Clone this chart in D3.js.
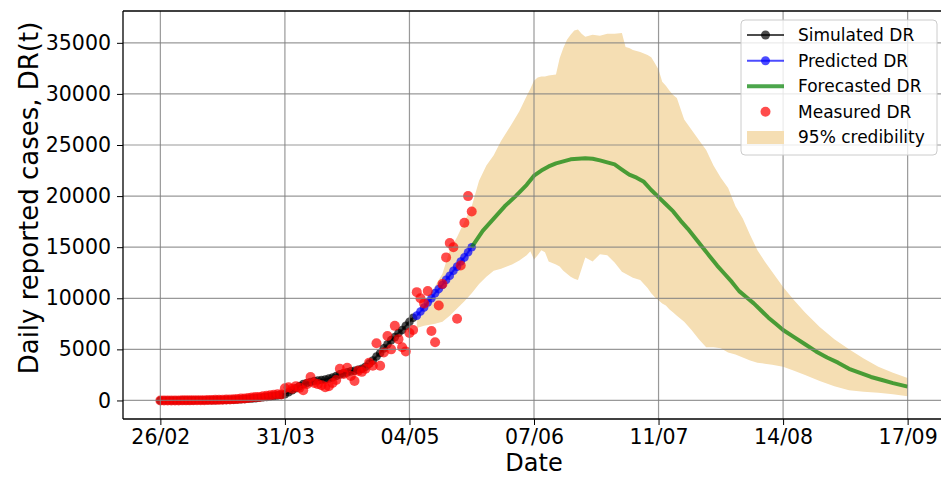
<!DOCTYPE html>
<html>
<head>
<meta charset="utf-8">
<script src="https://cdn.jsdelivr.net/npm/d3@7/dist/d3.min.js"></script>
<style>
  body { margin: 0; background: #fff; }
  svg { display: block; font-family: "DejaVu Sans", sans-serif; }
</style>
</head>
<body>
<svg id="chart" width="941" height="478"></svg>
<script>
// ---------- DATA ----------
const tickDays = [0, 34, 68, 102, 136, 170, 204];
const tickLabels = ["26/02", "31/03", "04/05", "07/06", "11/07", "14/08", "17/09"];
const yTicks = [0, 5000, 10000, 15000, 20000, 25000, 30000, 35000];

// Measured DR: one value per day starting 26/02 (day 0)
const measuredValues = [
  0, 0, 0, 0, 0, 0, 10, 10, 10, 20,
  20, 30, 30, 40, 50, 60, 60, 80, 90, 100,
  120, 150, 180, 200, 250, 300, 350, 350, 400, 450,
  500, 550, 600, 580, 1200, 1300, 1150, 1400, 1250, 1000,
  1600, 2300, 1700, 1600, 1500, 1300, 1400, 1700, 2000, 3100,
  2600, 3200, 2400, 1900, 2900, 2800, 3100, 3700, 3400, 5600,
  3400, 4700, 6300, 5000, 7300, 6000, 5200, 4800, 6600, 6900,
  10600, 10000, 9500, 10700, 6800, 5700, 9300, 11400, 14000, 15400,
  15000, 8000, 13200, 17400, 20000, 18500
];

// Simulated DR: days 0..69
const simulatedValues = [
  0, 0, 0, 0, 0, 0, 5, 5, 10, 10,
  15, 15, 20, 25, 30, 35, 40, 50, 60, 70,
  80, 100, 120, 140, 170, 200, 230, 270, 310, 350,
  400, 450, 500, 550, 600, 800, 1000, 1200, 1400, 1600,
  1700, 1800, 1900, 1950, 2000, 2050, 2150, 2250, 2400, 2550,
  2650, 2750, 2850, 2900, 3000, 3100, 3300, 3600, 3900, 4300,
  4650, 5100, 5500, 5900, 6200, 6600, 6900, 7300, 7700, 8100
];
const simulatedStart = 0;

// Predicted DR: days 70..85
const predictedValues = [
  8300, 8700, 9100, 9600, 10000, 10500, 10900, 11300,
  11800, 12200, 12700, 13100, 13600, 14000, 14500, 15000
];
const predictedStart = 70;

// Forecasted DR
const forecastDays = [85, 88, 91, 94, 97, 100, 102, 104, 106, 108, 110, 112, 114, 116, 118, 120,
  122, 124, 126, 128, 130, 132, 134, 136, 138, 140, 142, 144, 146, 148, 150, 152, 154, 156, 158,
  160, 162, 164, 166, 168, 170, 173, 176, 179, 182, 185, 188, 191, 194, 197, 200, 204];
const forecastValues = [15000, 16600, 17800, 19000, 20000, 21100, 22000, 22500, 22900, 23200,
  23400, 23600, 23650, 23700, 23650, 23500, 23300, 23100, 22600, 22100, 21800, 21400, 20600,
  19900, 19200, 18500, 17600, 16800, 15900, 15000, 14100, 13200, 12400, 11600, 10700, 10100,
  9500, 8800, 8100, 7500, 6900, 6200, 5500, 4800, 4200, 3700, 3100, 2700, 2300, 2000, 1700, 1350];

// 95% credibility band
const bandDays = [70, 72, 75, 77, 79, 81, 83, 85, 87, 89, 91, 93, 96, 98, 100, 101, 102, 103, 104,
  105, 106, 108, 109, 110, 111, 112, 113, 114, 115, 116, 118, 120, 122, 124, 126, 127, 128, 129, 131,
  133, 134, 135, 136, 137, 138, 139, 140, 141, 143, 145, 147, 149, 151, 153, 155, 157, 159, 161, 163,
  165, 167, 170, 173, 176, 180, 184, 188, 192, 196, 200, 204];
const bandUpper = [8300, 9300, 11200, 12400, 14700, 16000, 17500, 19000, 21500, 23000, 24000, 25400,
  27100, 28300, 29800, 30500, 31300, 31600, 31700, 31700, 31800, 31900, 33500, 34500, 35300, 35800,
  36200, 36300, 35900, 35600, 35800, 35700, 35900, 35900, 35950, 34600, 34500, 34300, 34100, 33800,
  33600, 33000, 32400, 31200, 30800, 30300, 29900, 29600, 27500, 26500, 25500, 24500, 23000, 21800,
  20800, 19000, 17800, 16200, 14700, 13600, 12600, 11100, 9800, 8600, 7200, 6000, 5000, 4100, 3300,
  2700, 2200];
const bandLower = [7100, 7300, 7500, 7700, 8300, 9000, 9700, 10500, 11400, 12100, 12700, 12900,
  13300, 13700, 14200, 14600, 13800, 14200, 14700, 14500, 13600, 13300, 13100, 12700, 12400, 12100,
  11900, 11800, 12900, 14000, 13600, 14300, 14200, 13500, 12600, 12400, 12200, 12000, 11800, 11000,
  10500, 10100, 9800, 9500, 9300, 8900, 8600, 8300, 7700, 6900, 6000, 5200, 5200, 5100, 4700, 4500,
  4200, 3900, 3700, 3600, 3500, 3300, 2900, 2500, 1900, 1400, 1000, 850, 750, 600, 420];

const seriesNames = ["Simulated DR", "Predicted DR", "Forecasted DR", "Measured DR", "95% credibility"];

// ---------- CHART ----------
const svg = d3.select("#chart");
const L = 123, R = 945, T = 11, B = 419;

const x = d3.scaleLinear().domain([-10.2, 214.2]).range([L, R]);
const y = d3.scaleLinear().domain([-1815, 38115]).range([B, T]);

svg.append("defs").append("clipPath").attr("id", "clip")
  .append("rect").attr("x", L).attr("y", T).attr("width", R - L).attr("height", B - T);

const plot = svg.append("g").attr("clip-path", "url(#clip)");

// band
const bandData = bandDays.map((d, i) => ({ d, lo: bandLower[i], hi: bandUpper[i] }));
plot.append("path")
  .datum(bandData)
  .attr("fill", "#f5deb3")
  .attr("d", d3.area().x(p => x(p.d)).y0(p => y(p.lo)).y1(p => y(p.hi)));

// grid
const grid = svg.append("g");
tickDays.forEach(d => {
  grid.append("line").attr("x1", x(d)).attr("x2", x(d)).attr("y1", T).attr("y2", B)
    .attr("stroke", "#808080").attr("stroke-opacity", 0.8).attr("stroke-width", 1.2);
});
yTicks.forEach(v => {
  grid.append("line").attr("x1", L).attr("x2", R).attr("y1", y(v)).attr("y2", y(v))
    .attr("stroke", "#808080").attr("stroke-opacity", 0.8).attr("stroke-width", 1.2);
});

// simulated
const simData = simulatedValues.map((v, i) => ({ d: simulatedStart + i, v }));
const line = d3.line().x(p => x(p.d)).y(p => y(p.v));
plot.append("path").datum(simData).attr("fill", "none").attr("stroke", "black")
  .attr("stroke-opacity", 0.7).attr("stroke-width", 2).attr("d", line);
plot.append("g").selectAll("circle").data(simData).join("circle")
  .attr("cx", p => x(p.d)).attr("cy", p => y(p.v)).attr("r", 4.3)
  .attr("fill", "black").attr("fill-opacity", 0.7);

// predicted
const predData = predictedValues.map((v, i) => ({ d: predictedStart + i, v }));
plot.append("path").datum(predData).attr("fill", "none").attr("stroke", "blue")
  .attr("stroke-opacity", 0.7).attr("stroke-width", 2).attr("d", line);
plot.append("g").selectAll("circle").data(predData).join("circle")
  .attr("cx", p => x(p.d)).attr("cy", p => y(p.v)).attr("r", 4.3)
  .attr("fill", "blue").attr("fill-opacity", 0.7);

// forecast
const fcData = forecastDays.map((d, i) => ({ d, v: forecastValues[i] }));
plot.append("path").datum(fcData).attr("fill", "none").attr("stroke", "green")
  .attr("stroke-opacity", 0.7).attr("stroke-width", 4).attr("stroke-linejoin", "round")
  .attr("d", line);

// measured
const measData = measuredValues.map((v, i) => ({ d: i, v }));
plot.append("g").selectAll("circle").data(measData).join("circle")
  .attr("cx", p => x(p.d)).attr("cy", p => y(p.v)).attr("r", 5)
  .attr("fill", "red").attr("fill-opacity", 0.7);

// axes
const xAxis = svg.append("g").attr("transform", `translate(0,${B})`)
  .call(d3.axisBottom(x).tickValues(tickDays).tickFormat((d, i) => tickLabels[i]).tickSizeOuter(0).tickSize(6).tickPadding(4));
const yAxis = svg.append("g").attr("transform", `translate(${L},0)`)
  .call(d3.axisLeft(y).tickValues(yTicks).tickFormat(d => String(d)).tickSizeOuter(0).tickSize(6).tickPadding(6));
[xAxis, yAxis].forEach(a => {
  a.selectAll("text").attr("font-size", 20.5).attr("fill", "#000").attr("font-family", "DejaVu Sans");
  a.selectAll("line").attr("stroke", "#000").attr("stroke-width", 1);
  a.select(".domain").remove();
});
// spines
svg.append("line").attr("x1", L).attr("x2", R).attr("y1", B).attr("y2", B).attr("stroke", "#000").attr("stroke-width", 1.3);
svg.append("line").attr("x1", L).attr("x2", R).attr("y1", T).attr("y2", T).attr("stroke", "#000").attr("stroke-width", 1.3);
svg.append("line").attr("x1", L).attr("x2", L).attr("y1", T).attr("y2", B).attr("stroke", "#000").attr("stroke-width", 1.3);

// axis titles
svg.append("text").attr("x", 534).attr("y", 471).attr("text-anchor", "middle")
  .attr("font-size", 24).text("Date");
svg.append("text").attr("transform", `translate(38,198) rotate(-90)`)
  .attr("text-anchor", "middle").attr("font-size", 26).text("Daily reported cases, DR(t)");

// legend
const lg = svg.append("g");
lg.append("rect").attr("x", 741).attr("y", 20).attr("width", 196).attr("height", 135)
  .attr("rx", 4).attr("fill", "white").attr("fill-opacity", 0.8)
  .attr("stroke", "#cccccc").attr("stroke-width", 1);
const rowY = [35, 60.7, 86.2, 111.8, 137.5];
const hx1 = 747, hx2 = 784, hxm = 765.5;
// simulated
lg.append("line").attr("x1", hx1).attr("x2", hx2).attr("y1", rowY[0]).attr("y2", rowY[0])
  .attr("stroke", "black").attr("stroke-opacity", 0.7).attr("stroke-width", 2);
lg.append("circle").attr("cx", hxm).attr("cy", rowY[0]).attr("r", 4.5).attr("fill", "black").attr("fill-opacity", 0.7);
// predicted
lg.append("line").attr("x1", hx1).attr("x2", hx2).attr("y1", rowY[1]).attr("y2", rowY[1])
  .attr("stroke", "blue").attr("stroke-opacity", 0.7).attr("stroke-width", 2);
lg.append("circle").attr("cx", hxm).attr("cy", rowY[1]).attr("r", 4.5).attr("fill", "blue").attr("fill-opacity", 0.7);
// forecast
lg.append("line").attr("x1", hx1).attr("x2", hx2).attr("y1", rowY[2]).attr("y2", rowY[2])
  .attr("stroke", "green").attr("stroke-opacity", 0.7).attr("stroke-width", 4);
// measured
lg.append("circle").attr("cx", hxm).attr("cy", rowY[3]).attr("r", 5).attr("fill", "red").attr("fill-opacity", 0.7);
// band
lg.append("rect").attr("x", hx1).attr("y", rowY[4] - 6.5).attr("width", hx2 - hx1).attr("height", 13)
  .attr("fill", "#f5deb3");
seriesNames.forEach((n, i) => {
  lg.append("text").attr("x", 798).attr("y", rowY[i]).attr("dy", "0.35em")
    .attr("font-size", 17).text(n);
});
</script>
</body>
</html>
